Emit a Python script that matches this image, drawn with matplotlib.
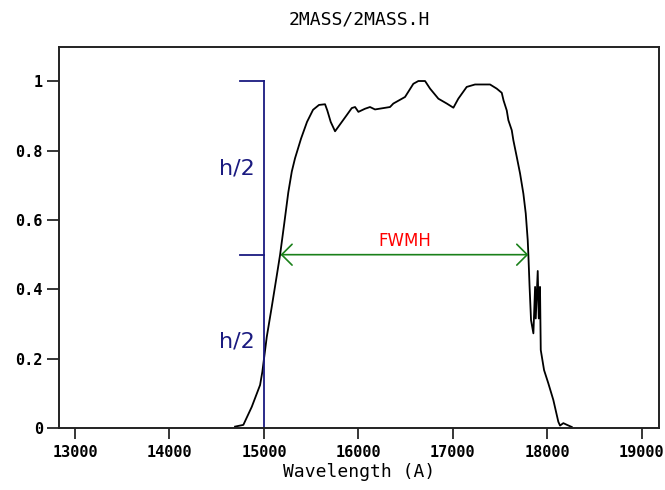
import matplotlib
matplotlib.use('Agg')
import matplotlib.pyplot as plt

# Filter transmission curve
wave = [14694, 14782, 14871, 14959, 14983, 15030, 15083, 15136, 15171, 15215,
        15258, 15295, 15329, 15393, 15456, 15520, 15583, 15647, 15671, 15707,
        15753, 15806, 15875, 15930, 15965, 16000, 16070, 16123, 16176, 16335,
        16370, 16494, 16582, 16635, 16706, 16759, 16847, 16936, 17006, 17058,
        17147, 17235, 17394, 17465, 17518, 17537, 17571, 17588, 17624, 17641,
        17677, 17712, 17747, 17772, 17793, 17800, 17812, 17828, 17853, 17871,
        17878, 17899, 17910, 17923, 17931, 17966, 18011, 18064, 18117, 18135,
        18170, 18209, 18259]
trans = [0.004, 0.009, 0.061, 0.124, 0.162, 0.263, 0.350, 0.440, 0.500, 0.590,
         0.680, 0.740, 0.778, 0.835, 0.883, 0.918, 0.932, 0.934, 0.916, 0.883,
         0.856, 0.876, 0.902, 0.923, 0.926, 0.912, 0.921, 0.926, 0.919, 0.926,
         0.936, 0.955, 0.993, 1.001, 1.001, 0.979, 0.950, 0.936, 0.924, 0.950,
         0.984, 0.991, 0.991, 0.979, 0.967, 0.945, 0.916, 0.888, 0.859, 0.830,
         0.782, 0.734, 0.676, 0.619, 0.542, 0.499, 0.412, 0.311, 0.273, 0.407,
         0.316, 0.453, 0.316, 0.407, 0.225, 0.167, 0.129, 0.081, 0.018, 0.007,
         0.014, 0.009, 0.003]

xticks = [13000, 14000, 15000, 16000, 17000, 18000, 19000]
yticks = [0, 0.2, 0.4, 0.6, 0.8, 1]
ytick_labels = ['0', '0.2', '0.4', '0.6', '0.8', '1']

# FWHM markers
peak = 1.0
half = 0.5
lam_left = 15000
fwhm_lo = 15175
fwhm_hi = 17800

navy = '#1a1a80'
mono = 'DejaVu Sans Mono'

fig = plt.figure(figsize=(6.65, 4.9), dpi=100)
ax = fig.add_axes([59 / 665, 62 / 490, 600 / 665, 381.3 / 490])

ax.plot(wave, trans, color='black', lw=1.3)

ax.set_xlim(12830, 19183)
ax.set_ylim(0, 1.1)
ax.set_xticks(xticks)
ax.set_xticklabels([str(t) for t in xticks])
ax.set_yticks(yticks)
ax.set_yticklabels(ytick_labels)
for lab in ax.get_xticklabels() + ax.get_yticklabels():
    lab.set_family(mono)
    lab.set_weight('bold')
    lab.set_fontsize(11)
ax.tick_params(axis='x', direction='out', length=8, width=1.1, pad=4)
ax.tick_params(axis='y', direction='out', length=8.6, width=1.1, pad=3)
for sp in ax.spines.values():
    sp.set_linewidth(1.4)
    sp.set_color('#222222')

# h/2 bracket
ax.plot([lam_left, lam_left], [0, peak], color=navy, lw=1.3, clip_on=False)
ax.plot([14750, lam_left], [peak, peak], color=navy, lw=1.3)
ax.plot([14750, lam_left], [half, half], color=navy, lw=1.3)
ax.text(14905, 0.75, 'h/2', color=navy, fontsize=16, ha='right', va='center')
ax.text(14905, 0.25, 'h/2', color=navy, fontsize=16, ha='right', va='center')

# FWHM arrow
ax.annotate('', xy=(fwhm_lo, half), xytext=(fwhm_hi, half),
            arrowprops=dict(arrowstyle='<->,head_length=0.5,head_width=0.5',
                            color='#1a801a', lw=1.2, shrinkA=0, shrinkB=0,
                            mutation_scale=15))
ax.text((fwhm_lo + fwhm_hi) / 2, 0.54, 'FWMH', color='red', fontsize=12,
        ha='center', va='center')

fig.text(359 / 665, 1 - 20 / 490, '2MASS/2MASS.H', family=mono, fontsize=13,
         ha='center', va='center')
fig.text(359 / 665, 1 - 472 / 490, 'Wavelength (A)', family=mono, fontsize=13,
         ha='center', va='center')

fig.savefig('out.png', dpi=100)
